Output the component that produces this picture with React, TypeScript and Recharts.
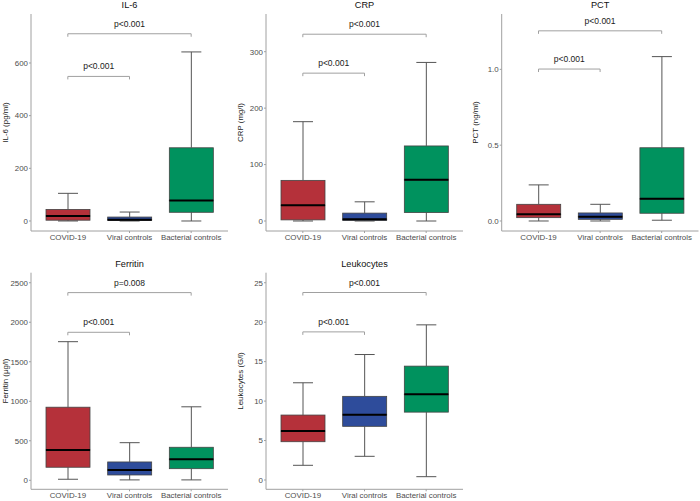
import { Bar, ComposedChart, ReferenceLine, XAxis, YAxis } from "recharts";

const GROUPS = ["COVID-19", "Viral controls", "Bacterial controls"];
const COLORS = ["#b5313a", "#2e4c9b", "#00925e"];
// comparisons drawn as brackets: COVID vs viral, COVID vs bacterial
const PAIRS = [
  [0, 1],
  [0, 2],
];

// five-number summary per group: min, q1, median, q3, max
const IL6_BOX = [
  [0, 3, 19, 44, 105],
  [0, 2, 5, 15, 34],
  [0, 33, 78, 278, 642],
];
const IL6_TICKS = [0, 200, 400, 600];
const IL6_BRACKETS = [549, 711];
const IL6_P = ["p<0.001", "p<0.001"];

const CRP_BOX = [
  [0, 2, 28, 72, 176],
  [0, 1, 3, 14, 34],
  [0, 15, 73, 133, 281],
];
const CRP_TICKS = [0, 100, 200, 300];
const CRP_BRACKETS = [262, 331];
const CRP_P = ["p<0.001", "p<0.001"];

const PCT_BOX = [
  [0, 0.022, 0.044, 0.11, 0.238],
  [0, 0.011, 0.028, 0.053, 0.11],
  [0.005, 0.051, 0.146, 0.483, 1.084],
];
const PCT_TICKS = [0, 0.5, 1.0];
const PCT_BRACKETS = [1.002, 1.254];
const PCT_P = ["p<0.001", "p<0.001"];

const FERRITIN_BOX = [
  [13, 165, 384, 925, 1754],
  [5, 67, 130, 232, 476],
  [5, 147, 266, 418, 930],
];
const FERRITIN_TICKS = [0, 500, 1000, 1500, 2000, 2500];
const FERRITIN_BRACKETS = [1873, 2375];
const FERRITIN_P = ["p<0.001", "p=0.008"];

const LEUKO_BOX = [
  [1.86, 4.85, 6.2, 8.23, 12.32],
  [3.0, 6.8, 8.27, 10.6, 15.9],
  [0.42, 8.6, 10.85, 14.43, 19.66],
];
const LEUKO_TICKS = [0, 5, 10, 15, 20, 25];
const LEUKO_BRACKETS = [18.77, 23.76];
const LEUKO_P = ["p<0.001", "p<0.001"];

const AXIS = "#a0a0a0";
const TICK_TEXT = { fontSize: 7.9, fill: "#4d4d4d" };

// stacked segments: invisible base, lower whisker, lower box, upper box, upper whisker
function toRows(box: number[][]) {
  return box.map(([min, q1, med, q3, max], i) => ({
    group: GROUPS[i],
    base: min,
    lowW: q1 - min,
    lowBox: med - q1,
    highBox: q3 - med,
    highW: max - q3,
  }));
}

function whisker(capAtTop: boolean) {
  return (p: any) => {
    const cx = p.x + p.width / 2;
    const capY = capAtTop ? p.y : p.y + p.height;
    return (
      <g>
        <line x1={cx} x2={cx} y1={p.y} y2={p.y + p.height} stroke="#555" strokeWidth={1} />
        <line x1={cx - 10} x2={cx + 10} y1={capY} y2={capY} stroke="#555" strokeWidth={1} />
      </g>
    );
  };
}

function boxPart(withMedian: boolean) {
  return (p: any) => (
    <g>
      <rect
        x={p.x}
        y={p.y}
        width={p.width}
        height={Math.max(p.height, 0)}
        fill={COLORS[p.index]}
        stroke="#444"
        strokeWidth={0.8}
      />
      {withMedian && (
        <line
          x1={p.x}
          x2={p.x + p.width}
          y1={p.y + p.height}
          y2={p.y + p.height}
          stroke="#000"
          strokeWidth={2}
        />
      )}
    </g>
  );
}

const bracketShape = (p: any) => (
  <path
    d={`M${p.x1},${p.y1 + 3}V${p.y1}H${p.x2}V${p.y2 + 3}`}
    fill="none"
    stroke={AXIS}
    strokeWidth={1}
  />
);

interface PanelProps {
  title: string;
  yLabel: string;
  box: number[][];
  ticks: number[];
  domain: [number, number];
  brackets: number[];
  pLabels: string[];
  left: number;
  top: number;
  width: number;
  height: number;
  marginTop: number;
  marginRight: number;
  xAxisHeight: number;
  yAxisWidth: number;
  titleY: number;
  tickFormat?: (v: number) => string;
}

function Panel(props: PanelProps) {
  const { width, height, marginTop, marginRight, xAxisHeight, yAxisWidth } = props;
  const data = toRows(props.box);
  const plotCenter = yAxisWidth + (width - yAxisWidth - marginRight) / 2;
  return (
    <div style={{ position: "absolute", left: props.left, top: props.top, width, height }}>
      <ComposedChart
        width={width}
        height={height}
        data={data}
        margin={{ top: marginTop, right: marginRight, bottom: 0, left: 0 }}
      >
        <XAxis
          dataKey="group"
          type="category"
          interval={0}
          padding={{ left: 6, right: 6 }}
          height={xAxisHeight}
          tickSize={2}
          tickMargin={1}
          axisLine={{ stroke: AXIS }}
          tickLine={{ stroke: AXIS }}
          tick={TICK_TEXT}
        />
        <YAxis
          type="number"
          domain={props.domain}
          ticks={props.ticks}
          tickFormatter={props.tickFormat}
          allowDataOverflow
          width={yAxisWidth}
          tickSize={2}
          tickMargin={1}
          axisLine={{ stroke: AXIS }}
          tickLine={{ stroke: AXIS }}
          tick={TICK_TEXT}
          label={{
            value: props.yLabel,
            angle: -90,
            position: "insideLeft",
            offset: 5,
            fontSize: 7.9,
            fill: "#1a1a1a",
            style: { textAnchor: "middle" },
          }}
        />
        <Bar dataKey="base" stackId="s" barSize={44} fill="none" isAnimationActive={false} />
        <Bar dataKey="lowW" stackId="s" barSize={44} shape={whisker(false)} isAnimationActive={false} />
        <Bar dataKey="lowBox" stackId="s" barSize={44} shape={boxPart(false)} isAnimationActive={false} />
        <Bar dataKey="highBox" stackId="s" barSize={44} shape={boxPart(true)} isAnimationActive={false} />
        <Bar dataKey="highW" stackId="s" barSize={44} shape={whisker(true)} isAnimationActive={false} />
        {PAIRS.map(([a, b], i) => (
          <ReferenceLine
            key={i}
            segment={[
              { x: GROUPS[a], y: props.brackets[i] },
              { x: GROUPS[b], y: props.brackets[i] },
            ]}
            ifOverflow="visible"
            shape={bracketShape}
            label={{
              value: props.pLabels[i],
              position: "top",
              offset: 7,
              fontSize: 8.5,
              fill: "#1a1a1a",
            }}
          />
        ))}
      </ComposedChart>
      <svg
        width={width}
        height={20}
        style={{ position: "absolute", left: 0, top: 0, pointerEvents: "none" }}
      >
        <text
          x={plotCenter}
          y={props.titleY}
          textAnchor="middle"
          fontSize={9.2}
          fontWeight={400}
          fill="#111"
        >
          {props.title}
        </text>
      </svg>
    </div>
  );
}

export default function App() {
  const topRow = { top: 0, height: 250, marginTop: 14, xAxisHeight: 19, titleY: 8.3 };
  const bottomRow = { top: 259, height: 242, marginTop: 13.7, xAxisHeight: 11.7, titleY: 7.8 };
  return (
    <div
      style={{
        position: "absolute",
        left: 0,
        top: 0,
        width: 700,
        height: 501,
        background: "#fff",
        fontFamily: "'Liberation Sans', Arial, sans-serif",
      }}
    >
      <Panel
        {...topRow}
        title="IL-6"
        yLabel="IL-6 (pg/ml)"
        box={IL6_BOX}
        ticks={IL6_TICKS}
        domain={[-38, 786]}
        brackets={IL6_BRACKETS}
        pLabels={IL6_P}
        left={0}
        width={235}
        marginRight={7}
        yAxisWidth={31}
      />
      <Panel
        {...topRow}
        title="CRP"
        yLabel="CRP (mg/l)"
        box={CRP_BOX}
        ticks={CRP_TICKS}
        domain={[-17.7, 366.8]}
        brackets={CRP_BRACKETS}
        pLabels={CRP_P}
        left={235}
        width={235}
        marginRight={7}
        yAxisWidth={31}
      />
      <Panel
        {...topRow}
        title="PCT"
        yLabel="PCT (ng/ml)"
        box={PCT_BOX}
        ticks={PCT_TICKS}
        tickFormat={(v) => v.toFixed(1)}
        domain={[-0.066, 1.365]}
        brackets={PCT_BRACKETS}
        pLabels={PCT_P}
        left={470}
        width={230}
        marginRight={1.5}
        yAxisWidth={31.7}
      />
      <Panel
        {...bottomRow}
        title="Ferritin"
        yLabel="Ferritin (µg/l)"
        box={FERRITIN_BOX}
        ticks={FERRITIN_TICKS}
        domain={[-114, 2627]}
        brackets={FERRITIN_BRACKETS}
        pLabels={FERRITIN_P}
        left={0}
        width={235}
        marginRight={7}
        yAxisWidth={31}
      />
      <Panel
        {...bottomRow}
        title="Leukocytes"
        yLabel="Leukocytes (G/l)"
        box={LEUKO_BOX}
        ticks={LEUKO_TICKS}
        domain={[-1.18, 26.27]}
        brackets={LEUKO_BRACKETS}
        pLabels={LEUKO_P}
        left={235}
        width={235}
        marginRight={7}
        yAxisWidth={31}
      />
    </div>
  );
}
